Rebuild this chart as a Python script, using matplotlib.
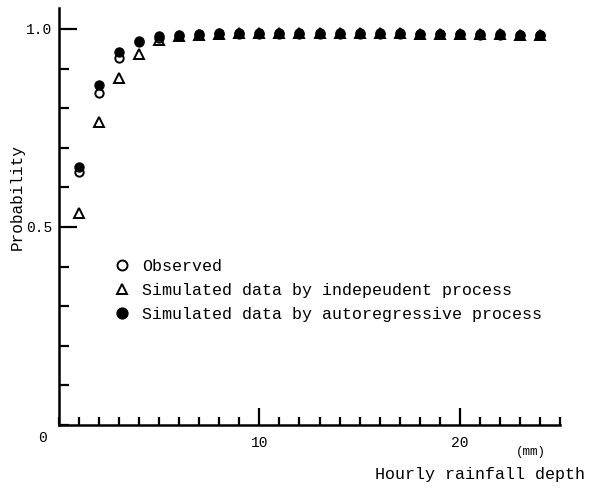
import numpy as np
import matplotlib
matplotlib.use("Agg")
import matplotlib.pyplot as plt
from matplotlib.ticker import MultipleLocator, FixedLocator

# hourly rainfall depth (mm)
depth = list(range(1, 25))
observed = [0.639, 0.839, 0.928, 0.966, 0.977, 0.982, 0.985, 0.987, 0.988, 0.988,
            0.988, 0.988, 0.988, 0.988, 0.988, 0.988, 0.988, 0.987, 0.987, 0.987,
            0.986, 0.986, 0.985, 0.985]
independent = [0.535, 0.766, 0.875, 0.938, 0.972, 0.983, 0.986, 0.988, 0.989, 0.989,
               0.989, 0.989, 0.989, 0.989, 0.989, 0.989, 0.989, 0.988, 0.988, 0.988,
               0.987, 0.987, 0.986, 0.986]
autoreg = [0.652, 0.859, 0.943, 0.970, 0.982, 0.985, 0.987, 0.989, 0.989, 0.989,
           0.989, 0.989, 0.989, 0.989, 0.989, 0.989, 0.989, 0.988, 0.988, 0.988,
           0.987, 0.987, 0.986, 0.986]

MONO = "Liberation Mono"

fig = plt.figure(figsize=(5.91, 4.91), dpi=100)
ax = fig.add_axes([59 / 591, 66 / 491, 501 / 591, 417 / 491])

ax.plot(depth, observed, "o", mfc="white", mec="black", mew=1.4, ms=6,
        label="Observed", zorder=3)
ax.plot(depth, independent, "^", mfc="white", mec="black", mew=1.4, ms=6.5,
        label="Simulated data by indepeudent process", zorder=2)
ax.plot(depth, autoreg, "o", color="black", ms=6.5,
        label="Simulated data by autoregressive process", zorder=4)

ax.set_xlim(0, 25)
ax.set_ylim(0, 1.053)
for s in ("top", "right"):
    ax.spines[s].set_visible(False)
for s in ("left", "bottom"):
    ax.spines[s].set_linewidth(1.8)

ax.xaxis.set_major_locator(FixedLocator([10, 20]))
ax.xaxis.set_minor_locator(MultipleLocator(1))
ax.yaxis.set_major_locator(FixedLocator([0.5, 1.0]))
ax.yaxis.set_minor_locator(MultipleLocator(0.1))
ax.tick_params(which="both", direction="in", width=1.6, labelsize=10.5)
ax.tick_params(axis="x", which="major", length=12, pad=8)
ax.tick_params(axis="x", which="minor", length=6)
ax.tick_params(axis="y", which="major", length=13, pad=5)
ax.tick_params(axis="y", which="minor", length=7)
for lab in ax.get_xticklabels() + ax.get_yticklabels():
    lab.set_fontfamily(MONO)
ax.set_xticklabels(["10", "20"])
ax.set_yticklabels(["0.5", "1.0"])

ax.text(-0.033, -0.015, "0", transform=ax.transAxes, ha="center", va="top",
        fontsize=10.5, family=MONO)
ax.text(0.942, -0.05, "(mm)", transform=ax.transAxes, ha="center", va="top",
        fontsize=9, family=MONO)
ax.text(1.05, -0.1, "Hourly rainfall depth", transform=ax.transAxes,
        ha="right", va="top", fontsize=12, family=MONO)
ax.set_ylabel("Probability", family=MONO, fontsize=11.5)
ax.yaxis.set_label_coords(-0.068, 0.547)

ax.legend(loc="upper left", bbox_to_anchor=(0.1, 0.415), frameon=False,
          prop={"family": MONO, "size": 12}, handlelength=0.8, markerscale=1.2,
          handletextpad=0.8, labelspacing=0.55, borderaxespad=0)

fig.savefig("out.png", dpi=100)
